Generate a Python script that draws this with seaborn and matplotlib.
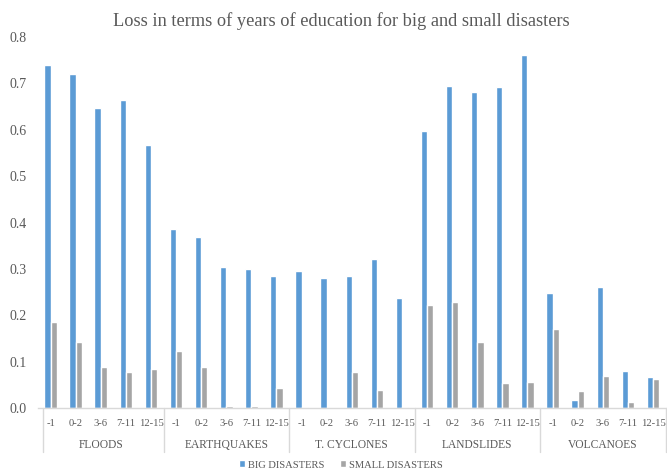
import matplotlib
matplotlib.use("Agg")
import matplotlib.pyplot as plt
import matplotlib.transforms as mtransforms
import seaborn as sns
import pandas as pd

# Disaster types and age-at-exposure intervals
disasters = ["FLOODS", "EARTHQUAKES", "T. CYCLONES", "LANDSLIDES", "VOLCANOES"]
age_groups = ["-1", "0-2", "3-6", "7-11", "12-15"]

# Loss in years of education, per disaster type (rows) and age interval (columns)
big_disasters = [
    [0.740, 0.720, 0.647, 0.665, 0.567],
    [0.385, 0.368, 0.304, 0.300, 0.285],
    [0.295, 0.280, 0.285, 0.322, 0.238],
    [0.598, 0.695, 0.682, 0.692, 0.762],
    [0.247, 0.017, 0.262, 0.079, 0.066],
]
small_disasters = [
    [0.185, 0.142, 0.088, 0.078, 0.084],
    [0.122, 0.088, 0.004, 0.004, 0.043],
    [0.002, 0.000, 0.077, 0.039, 0.002],
    [0.222, 0.229, 0.142, 0.053, 0.056],
    [0.170, 0.037, 0.070, 0.013, 0.062],
]
series_names = ["BIG DISASTERS", "SMALL DISASTERS"]
y_ticks = [0.0, 0.1, 0.2, 0.3, 0.4, 0.5, 0.6, 0.7, 0.8]

rows = []
for gi, d in enumerate(disasters):
    for ai, a in enumerate(age_groups):
        slot = f"{d}|{a}"
        rows.append({"slot": slot, "series": series_names[0], "value": big_disasters[gi][ai]})
        rows.append({"slot": slot, "series": series_names[1], "value": small_disasters[gi][ai]})
df = pd.DataFrame(rows)
slot_order = [f"{d}|{a}" for d in disasters for a in age_groups]

sns.set_style("white")
plt.rcParams["font.family"] = ["Liberation Serif", "DejaVu Serif"]

text_color = "#595959"
fig = plt.figure(figsize=(6.67, 4.70), dpi=100)
ax = fig.add_axes([0.057, 0.132, 0.9408, 0.789])

sns.barplot(
    data=df, x="slot", y="value", hue="series", order=slot_order,
    hue_order=series_names, palette=["#5B9BD5", "#A5A5A5"],
    width=0.5, gap=0, saturation=1, errorbar=None, ax=ax,
)

ax.set_ylim(0, 0.8)
ax.set_xlim(-0.5, len(slot_order) - 0.5)
ax.set_yticks(y_ticks)
ax.set_yticklabels([f"{v:.1f}" for v in y_ticks], fontsize=10, color=text_color)
ax.tick_params(axis="y", length=0, pad=8)
ax.set_xticks([])
ax.set_xlabel("")
ax.set_ylabel("")
for side in ["left", "right", "top"]:
    ax.spines[side].set_visible(False)
ax.spines["bottom"].set_color("#D9D9D9")
ax.spines["bottom"].set_linewidth(1.0)

trans = mtransforms.blended_transform_factory(ax.transData, ax.transAxes)
# age interval labels
for i, slot in enumerate(slot_order):
    ax.text(i, -0.043, slot.split("|")[1], transform=trans, ha="center", va="center",
            fontsize=7.6, color=text_color)
# disaster group labels and separators
n = len(age_groups)
for gi, d in enumerate(disasters):
    ax.text(gi * n + (n - 1) / 2, -0.100, d, transform=trans, ha="center", va="center",
            fontsize=8.3, color=text_color)
for b in range(len(disasters) + 1):
    xb = b * n - 0.5
    if b == 0:
        xb += 0.2
    ax.plot([xb, xb], [0, -0.119], transform=trans,
            color="#D9D9D9", lw=1.0, clip_on=False)

fig.text(0.511, 1 - 21 / 470, "Loss in terms of years of education for big and small disasters",
         ha="center", va="center", fontsize=13.2, color=text_color)

ax.legend(title=None, loc="center", bbox_to_anchor=(0.511, 1 - 465 / 470),
          bbox_transform=fig.transFigure, ncol=2,
          frameon=False, fontsize=7.6, handlelength=0.6, handleheight=0.6,
          handletextpad=0.3, columnspacing=1.4, labelcolor=text_color)

fig.savefig("out.png", dpi=100)
